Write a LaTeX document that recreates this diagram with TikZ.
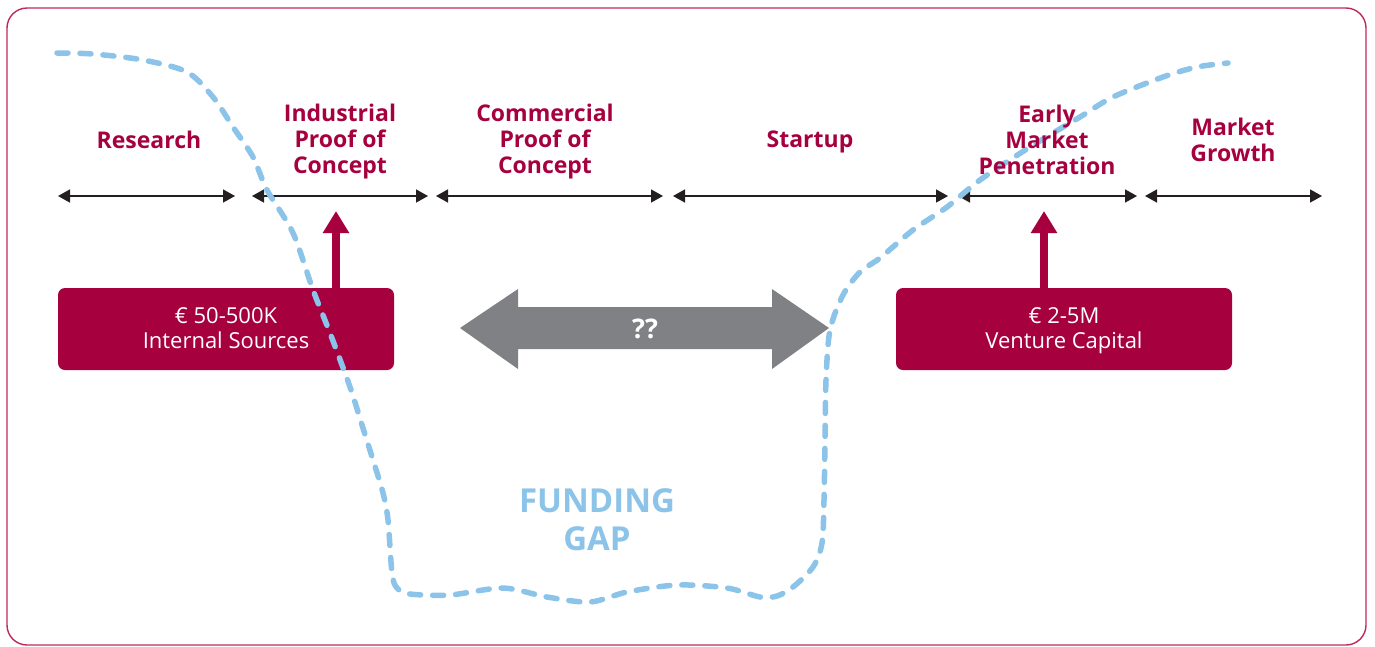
\documentclass[tikz,border=0pt]{standalone}
\usepackage{fontspec}
\setmainfont{Open Sans}
\usetikzlibrary{arrows.meta}
\definecolor{crimson}{RGB}{166,0,62}
\definecolor{framered}{RGB}{190,40,95}
\definecolor{gapblue}{RGB}{140,195,232}
\definecolor{arrowgrey}{RGB}{128,129,132}
\definecolor{darkline}{RGB}{35,31,32}
\begin{document}
\begin{tikzpicture}[x=1pt,y=-1pt,
  stage/.style={font=\bfseries\fontsize{23}{26}\selectfont, text=crimson, align=center, inner sep=0pt},
  span/.style={draw=darkline, line width=1.6pt, {Triangle[length=12pt,width=13pt]}-{Triangle[length=12pt,width=13pt]}},
  fundbox/.style={fill=crimson, rounded corners=7pt, minimum width=336pt, minimum height=82pt, text=white, align=center, font=\fontsize{22}{25}\selectfont, inner sep=0pt},
  fundarrow/.style={draw=crimson, line width=8pt, -{Triangle[length=22pt,width=25pt]}},
  gapline/.style={draw=gapblue, line width=5.5pt, dash pattern=on 11pt off 12pt, line cap=round},
  gaptext/.style={font=\bfseries\fontsize{33}{38}\selectfont, text=gapblue, align=center, inner sep=0pt},
]
\useasboundingbox (0,0) rectangle (1375,646);
\draw[framered, line width=1.4pt, rounded corners=20pt] (7,8) rectangle (1366,645);

% stage spans
\coordinate (s1l) at (58,196);  \coordinate (s1r) at (235,196);
\coordinate (s2l) at (252,196); \coordinate (s2r) at (428,196);
\coordinate (s3l) at (436,196); \coordinate (s3r) at (663,196);
\coordinate (s4l) at (673,196); \coordinate (s4r) at (948,196);
\coordinate (s5l) at (958,196); \coordinate (s5r) at (1137,196);
\coordinate (s6l) at (1145,196); \coordinate (s6r) at (1322,196);
\draw[span] (s1l) -- (s1r);
\draw[span] (s2l) -- (s2r);
\draw[span] (s3l) -- (s3r);
\draw[span] (s4l) -- (s4r);
\draw[span] (s5l) -- (s5r);
\draw[span] (s6l) -- (s6r);

% funding boxes
\node[fundbox] (ibox) at (226,329) {\rule{0pt}{19pt}€ 50-500K\\Internal Sources\vphantom{p}};
\node[fundbox] (vbox) at (1064,329) {\rule{0pt}{19pt}€ 2-5M\\Venture Capital\vphantom{p}};
\coordinate (itip) at (336,211);
\coordinate (vtip) at (1044,211);
\draw[fundarrow] (ibox.north -| itip) -- (itip);
\draw[fundarrow] (vbox.north -| vtip) -- (vtip);

% grey double arrow
\fill[arrowgrey] (460,328) -- (518,289) -- (518,307) -- (772,307) -- (772,289) -- (829,328)
  -- (772,369) -- (772,349) -- (518,349) -- (518,369) -- cycle;
\node[font=\bfseries\fontsize{27}{30}\selectfont, text=white, inner sep=0pt] (unknown) at (645,329) {??};

% funding gap curve
\draw[gapline] plot[smooth, tension=0.5] coordinates {
  (57,53) (93,54) (143,60) (187,72) (213,97) (233,127) (253,157) (267,190) (293,233)
  (313,290) (330,333) (350,387) (362,425) (373,460) (383,493) (388,520) (392,573)
  (397,588) (410,594) (450,595) (503,588) (547,597) (590,602) (627,592) (677,585)
  (727,588) (760,597) (777,596) (793,587) (813,567) (822,543) (824,500) (825,440)
  (826,380) (830,330) (843,295) (860,272) (880,258) (913,230) (947,207) (980,180)
  (1030,147) (1080,117) (1113,97) (1163,77) (1197,67) (1228,63)};

% stage labels
\node[stage] (research) at (149,140) {Research};
\node[stage] (industrial) at (340,142) {Industrial\\Proof of\\Concept};
\node[stage] (commercial) at (545,142) {Commercial\\Proof of\\Concept};
\node[stage] (startup) at (810,142) {Startup};
\node[stage] (early) at (1047,140) {Early\\Market\\Penetration};
\node[stage] (growth) at (1233,140) {Market\\Growth};

\node[gaptext] (fundgap) at (597,520) {FUNDING\\GAP};
\end{tikzpicture}
\end{document}
